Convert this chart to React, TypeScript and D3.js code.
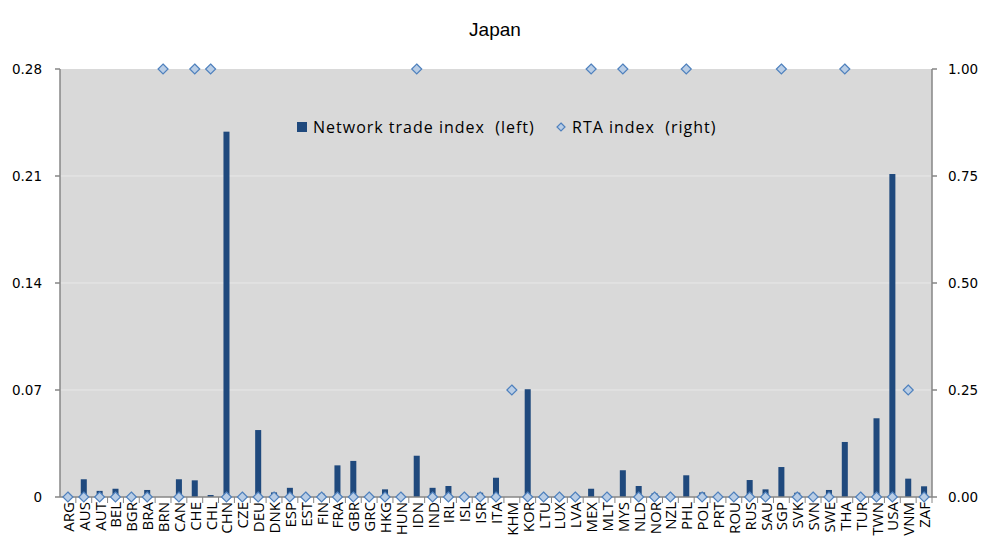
import React from 'react';
import * as d3 from 'd3';

const countries = [
  'ARG', 'AUS', 'AUT', 'BEL', 'BGR', 'BRA', 'BRN', 'CAN', 'CHE', 'CHL', 'CHN', 'CZE', 'DEU', 'DNK',
  'ESP', 'EST', 'FIN', 'FRA', 'GBR', 'GRC', 'HKG', 'HUN', 'IDN', 'IND', 'IRL', 'ISL', 'ISR', 'ITA',
  'KHM', 'KOR', 'LTU', 'LUX', 'LVA', 'MEX', 'MLT', 'MYS', 'NLD', 'NOR', 'NZL', 'PHL', 'POL', 'PRT',
  'ROU', 'RUS', 'SAU', 'SGP', 'SVK', 'SVN', 'SWE', 'THA', 'TUR', 'TWN', 'USA', 'VNM', 'ZAF',
];

const networkTrade = [
  0, 0.0116, 0.004, 0.0054, 0, 0.0046, 0, 0.0116, 0.0109, 0.0013, 0.239, 0.0006, 0.0438, 0.003,
  0.006, 0, 0.0022, 0.0207, 0.0236, 0, 0.005, 0.002, 0.027, 0.006, 0.0072, 0, 0.0028, 0.0126,
  0, 0.0705, 0, 0, 0, 0.0054, 0, 0.0175, 0.0072, 0.0024, 0, 0.0142, 0.003, 0,
  0, 0.0111, 0.005, 0.0196, 0.0028, 0, 0.0046, 0.036, 0, 0.0515, 0.2113, 0.012, 0.007,
];

const rtaIndex = [
  0, 0, 0, 0, 0, 0, 1, 0, 1, 1, 0, 0, 0, 0,
  0, 0, 0, 0, 0, 0, 0, 0, 1, 0, 0, 0, 0, 0,
  0.25, 0, 0, 0, 0, 1, 0, 1, 0, 0, 0, 1, 0, 0,
  0, 0, 0, 1, 0, 0, 0, 1, 0, 0, 0, 0.25, 0,
];

const leftTicks = [0, 0.07, 0.14, 0.21, 0.28];
const leftTickLabels = ['0', '0.07', '0.14', '0.21', '0.28'];
const rightTicks = [0, 0.25, 0.5, 0.75, 1];
const rightTickLabels = ['0.00', '0.25', '0.50', '0.75', '1.00'];

const W = 982;
const H = 541;
const plot = { left: 60, right: 932, top: 69, bottom: 497 };
const barColor = '#1f497d';
const tickFont = 'Verdana, "DejaVu Sans", sans-serif';
const labelFont = '"Open Sans", "Noto Sans", sans-serif';

export default function App() {
  const x = d3.scaleBand<string>().domain(countries).range([plot.left, plot.right]).paddingInner(0.62).paddingOuter(0.31);
  const step = x.step();
  const yL = d3.scaleLinear().domain([0, 0.28]).range([plot.bottom, plot.top]);
  const yR = d3.scaleLinear().domain([0, 1]).range([plot.bottom, plot.top]);
  const diamond = (cx: number, cy: number, r: number) =>
    `M${cx},${cy - r}L${cx + r},${cy}L${cx},${cy + r}L${cx - r},${cy}Z`;

  return (
    <svg width={W} height={H} style={{ position: 'absolute', left: 0, top: 0 }}>
      <rect x={0} y={0} width={W} height={H} fill="#ffffff" />
      <text x={495} y={36} textAnchor="middle" fontFamily='"Liberation Sans", Arial, sans-serif' fontSize={19}>Japan</text>
      <rect x={plot.left} y={plot.top} width={plot.right - plot.left} height={plot.bottom - plot.top} fill="#d9d9d9" />
      {leftTicks.slice(1, -1).map((t) => (
        <line key={t} x1={plot.left} x2={plot.right} y1={yL(t)} y2={yL(t)} stroke="#e8e8e8" strokeWidth={1} />
      ))}
      {/* left axis */}
      <line x1={plot.left} x2={plot.left} y1={plot.top} y2={plot.bottom} stroke="#868686" strokeWidth={1.5} />
      {leftTicks.map((t, i) => (
        <g key={t}>
          <line x1={plot.left - 5} x2={plot.left} y1={yL(t)} y2={yL(t)} stroke="#868686" strokeWidth={1.5} />
          <text x={42} y={yL(t)} dy="0.35em" textAnchor="end" fontFamily={tickFont} fontSize={13.5}>{leftTickLabels[i]}</text>
        </g>
      ))}
      {/* right axis */}
      <line x1={plot.right} x2={plot.right} y1={plot.top} y2={plot.bottom} stroke="#868686" strokeWidth={1.5} />
      {rightTicks.map((t, i) => (
        <g key={t}>
          <line x1={plot.right} x2={plot.right + 5} y1={yR(t)} y2={yR(t)} stroke="#868686" strokeWidth={1.5} />
          <text x={948} y={yR(t)} dy="0.35em" textAnchor="start" fontFamily={tickFont} fontSize={13.5}>{rightTickLabels[i]}</text>
        </g>
      ))}
      {/* bars */}
      {countries.map((c, i) => (
        <rect key={c} x={x(c)} y={yL(networkTrade[i])} width={x.bandwidth()} height={plot.bottom - yL(networkTrade[i])} fill={barColor} />
      ))}
      {/* bottom axis */}
      <line x1={plot.left} x2={plot.right} y1={plot.bottom} y2={plot.bottom} stroke="#868686" strokeWidth={1.5} />
      {countries.map((c, i) => (
        <line key={c} x1={plot.left + step * (i + 1)} x2={plot.left + step * (i + 1)} y1={plot.bottom} y2={plot.bottom + 6} stroke="#868686" strokeWidth={1} />
      ))}
      {countries.map((c) => {
        const cx = (x(c) as number) + x.bandwidth() / 2;
        return (
          <text key={c} transform={`translate(${cx + 6},${plot.bottom + 5}) rotate(-90)`} textAnchor="end" fontFamily={labelFont} fontSize={15}>{c}</text>
        );
      })}
      {/* RTA diamonds */}
      {countries.map((c, i) => {
        const cx = (x(c) as number) + x.bandwidth() / 2;
        return <path key={c} d={diamond(cx, yR(rtaIndex[i]), 5)} fill="#b9cde5" stroke="#4f81bd" strokeWidth={1.2} />;
      })}
      {/* legend */}
      <rect x={297} y={122} width={10} height={10} fill={barColor} />
      <text x={313} y={133} fontFamily={labelFont} fontSize={16} letterSpacing={1} style={{ whiteSpace: 'pre' }}>Network trade index  (left)</text>
      <path d={diamond(561, 127, 4)} fill="#b9cde5" stroke="#4f81bd" strokeWidth={1.2} />
      <text x={572} y={133} fontFamily={labelFont} fontSize={16} letterSpacing={1} style={{ whiteSpace: 'pre' }}>RTA index  (right)</text>
    </svg>
  );
}
